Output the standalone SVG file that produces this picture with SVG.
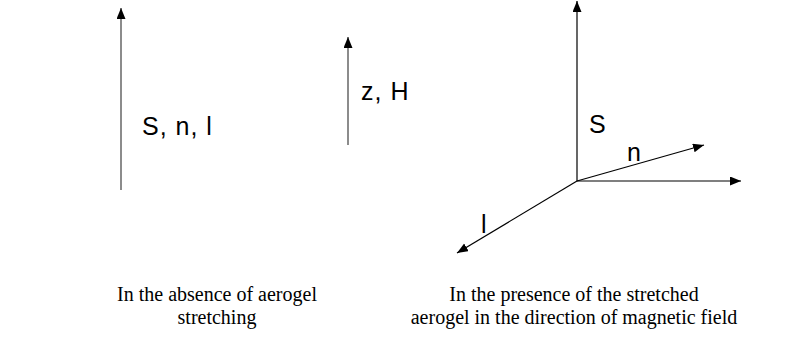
<svg xmlns="http://www.w3.org/2000/svg" width="785" height="347" viewBox="0 0 785 347">
<style>
.ax{stroke:#000;stroke-width:1.2;fill:none}
.axg{stroke:#666;stroke-width:1.5;fill:none}
.lbl{font-family:"Liberation Sans",Arial,sans-serif;font-size:25px;letter-spacing:1px;fill:#000}
.cap{font-family:"Liberation Serif","Times New Roman",serif;font-size:20px;fill:#000;text-anchor:middle}
</style>
<defs>
<marker id="ah" markerUnits="userSpaceOnUse" markerWidth="12" markerHeight="10" refX="11" refY="4.5" orient="auto">
<path d="M0,0 L11,4.5 L0,9 Z" fill="#000"/>
</marker>
</defs>
<g id="connectors">
<line class="axg" x1="121" y1="190" x2="121" y2="8" marker-end="url(#ah)"/>
<line class="axg" x1="348" y1="145" x2="348" y2="37" marker-end="url(#ah)"/>
<line class="ax" x1="577" y1="181" x2="577" y2="1" marker-end="url(#ah)"/>
<line class="ax" x1="577" y1="181" x2="741" y2="181" marker-end="url(#ah)"/>
<line class="ax" x1="577" y1="181" x2="704" y2="145" marker-end="url(#ah)"/>
<line class="ax" x1="577" y1="181" x2="457" y2="253" marker-end="url(#ah)"/>
</g>
<g id="label-snl"><text class="lbl" x="142" y="135">S, n, l</text></g>
<g id="label-zh"><text class="lbl" x="361" y="100">z, H</text></g>
<g id="label-s"><text class="lbl" x="589" y="133">S</text></g>
<g id="label-n"><text class="lbl" x="627" y="161">n</text></g>
<g id="label-l"><text class="lbl" x="481" y="233">l</text></g>
<g id="caption-left">
<text class="cap" x="217" y="301">In the absence of aerogel</text>
<text class="cap" x="217" y="324">stretching</text>
</g>
<g id="caption-right">
<text class="cap" x="574" y="301">In the presence of the stretched</text>
<text class="cap" x="574" y="324">aerogel in the direction of magnetic field</text>
</g>
</svg>
